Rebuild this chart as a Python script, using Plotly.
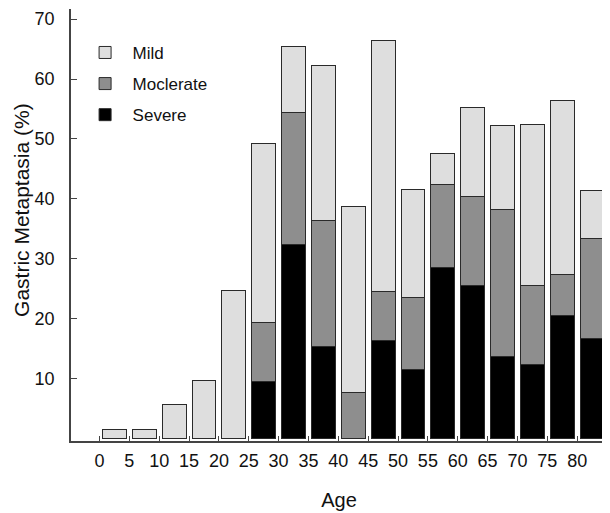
import plotly.graph_objects as go

age_start = [0, 5, 10, 15, 20, 25, 30, 35, 40, 45, 50, 55, 60, 65, 70, 75, 80]
severe = [None, None, None, None, None, 9.5, 32.3, 15.4, None, 16.4, 11.5, 28.5, 25.5, 13.6, 12.4, 20.5, 16.6]
moderate = [None, None, None, None, None, 9.9, 22.1, 21.0, 7.7, 8.1, 12.0, 13.9, 14.8, 24.6, 13.1, 6.9, 16.7]
mild = [1.5, 1.5, 5.7, 9.6, 24.6, 29.9, 11.1, 25.9, 31.0, 41.9, 18.1, 5.1, 15.0, 14.1, 26.9, 29.1, 8.1]
x_ticks = [0, 5, 10, 15, 20, 25, 30, 35, 40, 45, 50, 55, 60, 65, 70, 75, 80]
y_ticks = [10, 20, 30, 40, 50, 60, 70]

series = [
    ("Severe", severe, "#000000", 3),
    ("Moclerate", moderate, "#8e8e8e", 2),
    ("Mild", mild, "#dedede", 1),
]

fig = go.Figure()
for name, vals, color, rank in series:
    fig.add_trace(go.Bar(
        x=age_start, y=vals, name=name, legendgroup=name, legendrank=rank,
        offset=0.5, width=4,
        marker=dict(color=color, line=dict(color="#2a2a2a", width=1)),
    ))

font = "Liberation Sans, Arial, sans-serif"
# page body has an 8px margin, so the figure is 8px smaller and the margins compensate
fig.update_layout(
    barmode="stack",
    width=602, height=505,
    margin=dict(l=63, r=3, t=1, b=72, autoexpand=False),
    paper_bgcolor="white", plot_bgcolor="white",
    font=dict(family=font, color="#111111"),
    showlegend=True,
    legend=dict(
        x=0.0123, y=0.94, xanchor="left", yanchor="top",
        traceorder="grouped", tracegroupgap=6, itemwidth=45,
        font=dict(size=17, family=font, color="#111111"),
        bgcolor="rgba(0,0,0,0)",
    ),
    xaxis=dict(
        range=[-4.77, 85.0], tickmode="array", tickvals=x_ticks,
        ticktext=[str(v) for v in x_ticks],
        ticks="inside", ticklen=5, tickcolor="#444444", tickwidth=1,
        showline=True, linecolor="#444444", linewidth=1.5,
        showgrid=False, zeroline=False, automargin=False,
        tickfont=dict(size=18, family=font, color="#111111"),
        ticklabelstandoff=3,
        title=dict(text="Age", font=dict(size=20, family=font, color="#111111"), standoff=23),
    ),
    yaxis=dict(
        range=[-0.46, 71.7], tickmode="array", tickvals=y_ticks,
        ticks="inside", ticklen=6, tickcolor="#444444", tickwidth=1,
        showline=True, linecolor="#444444", linewidth=1.5,
        showgrid=False, zeroline=False, automargin=False,
        tickfont=dict(size=18, family=font, color="#111111"),
        ticklabelstandoff=11,
    ),
    annotations=[dict(
        text="Gastric Metaptasia (%)", textangle=-90,
        xref="paper", yref="paper", x=-0.0914, y=0.535,
        xanchor="center", yanchor="middle", showarrow=False,
        font=dict(size=21, family=font, color="#111111"),
    )],
)

fig.write_html("out.html")
